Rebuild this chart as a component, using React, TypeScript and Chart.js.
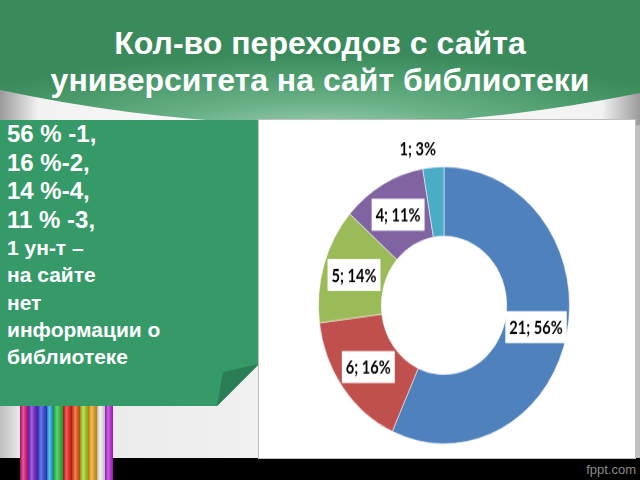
import { useEffect, useRef } from "react";
import { Chart, registerables } from "chart.js";

Chart.register(...registerables);

// ---- data ----
const categories = ["1", "2", "4", "3", "нет информации"];
const counts = [21, 6, 5, 4, 1];
const percentLabels = ["56%", "16%", "14%", "11%", "3%"];
const sliceColors = ["#4F81BD", "#C0504D", "#9BBB59", "#8064A2", "#4BACC6"];
const titleLines = ["Кол-во переходов с сайта", "университета на сайт библиотеки"];
const leftLinesBig = ["56 % -1,", "16 %-2,", "14 %-4,", "11 % -3,"];
const leftLinesSmall = ["1 ун-т –", "на сайте", "нет", "информации о", "библиотеке"];
const pencilColors = [
  "#E0117F", "#7A1FD6", "#2F3FE0", "#1EA8F0", "#22C23A", "#F01818",
  "#F05010", "#A8D81A", "#F0A010", "#F4F4F4", "#C020E0",
];

const LABEL_FONT = "bold 17px Lato, 'Open Sans', sans-serif";
const LABEL_SQUEEZE = 0.86;

const sliceLabelPlugin = {
  id: "sliceLabels",
  afterDatasetsDraw(chart: any) {
    const ctx = chart.ctx;
    const meta = chart.getDatasetMeta(0);
    const total = counts.reduce((a, b) => a + b, 0);
    meta.data.forEach((arc: any, i: number) => {
      const text = `${counts[i]}; ${percentLabels[i]}`;
      ctx.save();
      ctx.font = LABEL_FONT;
      ctx.textAlign = "center";
      ctx.textBaseline = "middle";
      const w = ctx.measureText(text).width * LABEL_SQUEEZE;
      const frac = counts[i] / total;
      let x: number, y: number;
      if (frac < 0.05) {
        const p = arc.getProps(["x", "y", "startAngle", "endAngle", "outerRadius"], true);
        const a = (p.startAngle + p.endAngle) / 2;
        x = p.x + Math.cos(a) * (p.outerRadius + 18) - 14;
        y = p.y + Math.sin(a) * (p.outerRadius + 18);
      } else {
        const pos = arc.tooltipPosition(true);
        x = pos.x;
        y = pos.y;
        ctx.fillStyle = "#FFFFFF";
        const bw = w + 8;
        const bh = 29;
        ctx.fillRect(x - bw / 2, y - bh / 2, bw, bh);
      }
      ctx.fillStyle = "#000000";
      ctx.translate(x, y + 1);
      ctx.scale(LABEL_SQUEEZE, 1);
      ctx.fillText(text, 0, 0);
      ctx.restore();
    });
  },
};

function DoughnutChart() {
  const ref = useRef<HTMLCanvasElement | null>(null);
  useEffect(() => {
    if (!ref.current) return;
    const chart = new Chart(ref.current, {
      type: "doughnut",
      data: {
        labels: categories,
        datasets: [
          {
            data: counts,
            backgroundColor: sliceColors,
            borderColor: "rgba(255,255,255,0.5)",
            borderWidth: 1,
          },
        ],
      },
      options: {
        responsive: false,
        animation: false,
        cutout: "50%",
        layout: { padding: { left: 59, right: 65, top: 42, bottom: 12 } },
        plugins: {
          legend: { display: false },
          tooltip: { enabled: false },
          title: { display: false },
        },
      },
      plugins: [sliceLabelPlugin],
    });
    return () => chart.destroy();
  }, []);
  return (
    <canvas
      ref={ref}
      width={376}
      height={306}
      style={{
        position: "absolute",
        left: 0,
        top: 0,
        width: 376,
        height: 306,
        transform: "scaleY(1.103)",
        transformOrigin: "0 0",
      }}
    />
  );
}

export default function App() {
  const font = "'Liberation Sans', Arial, sans-serif";
  const pencilX0 = 20;
  const pencilW = [8, 9, 10, 6, 10, 9, 8, 8, 9, 8, 8];
  let px = pencilX0;
  const pencils = pencilColors.map((c, i) => {
    const r = { x: px, w: pencilW[i], c };
    px += pencilW[i];
    return r;
  });
  return (
    <div
      style={{
        position: "fixed",
        left: 0,
        top: 0,
        width: 640,
        height: 480,
        overflow: "hidden",
        background: "#eeeeee",
      }}
    >
      <svg width={640} height={480} style={{ position: "absolute", left: 0, top: 0 }}>
        <defs>
          <linearGradient id="bgH" x1="0" y1="0" x2="1" y2="0">
            <stop offset="0" stopColor="#bdbdbd" />
            <stop offset="0.03" stopColor="#e8e8e8" />
            <stop offset="0.5" stopColor="#f3f3f3" />
            <stop offset="0.97" stopColor="#e8e8e8" />
            <stop offset="1" stopColor="#bdbdbd" />
          </linearGradient>
          <linearGradient id="silver" x1="0" y1="0" x2="1" y2="0">
            <stop offset="0" stopColor="#9a9a9a" />
            <stop offset="0.06" stopColor="#f2f2f2" />
            <stop offset="0.5" stopColor="#ffffff" />
            <stop offset="0.94" stopColor="#f2f2f2" />
            <stop offset="1" stopColor="#9a9a9a" />
          </linearGradient>
          <radialGradient id="topGreen" cx="0.5" cy="1.05" r="0.62">
            <stop offset="0" stopColor="#9fd0b0" />
            <stop offset="0.35" stopColor="#6db38a" />
            <stop offset="0.75" stopColor="#4a9a6c" />
            <stop offset="1" stopColor="#3a8a5c" />
          </radialGradient>
          <linearGradient id="pencilShade" x1="0" y1="0" x2="1" y2="0">
            <stop offset="0" stopColor="#000" stopOpacity="0.25" />
            <stop offset="0.4" stopColor="#fff" stopOpacity="0.3" />
            <stop offset="1" stopColor="#000" stopOpacity="0.2" />
          </linearGradient>
        </defs>
        <rect x={0} y={0} width={640} height={480} fill="url(#bgH)" />
        <path d="M0,80 H640 V125 Q320,175 0,122 Z" fill="url(#silver)" />
        <path d="M0,0 H640 V93 Q320,158 0,90 Z" fill="url(#topGreen)" />
        {/* left green panel */}
        <polygon points="0,120 259,120 259,364 217,406 0,406" fill="#359A68" />
        <polygon points="223,372 259,364 217,406" fill="#2A7D54" />
        {/* black bottom bar */}
        <rect x={0} y={458} width={640} height={22} fill="#000" />
        {/* pencils */}
        {pencils.map((p, i) => (
          <g key={i}>
            <rect x={p.x} y={406} width={p.w} height={74} fill={p.c} />
            <rect x={p.x} y={406} width={p.w} height={74} fill="url(#pencilShade)" />
          </g>
        ))}
        <text x={636} y={474} textAnchor="end" fill="#8a8a8a" fontFamily={font} fontSize={13}>
          fppt.com
        </text>
        {/* title */}
        {titleLines.map((t, i) => (
          <text
            key={i}
            x={320}
            y={54 + i * 37}
            textAnchor="middle"
            fill="#ffffff"
            fontFamily={font}
            fontWeight="bold"
            fontSize={32}
          >
            {t}
          </text>
        ))}
        {/* left text */}
        {leftLinesBig.map((t, i) => (
          <text key={"b" + i} x={7} y={142 + i * 28.5} fill="#ffffff" fontFamily={font} fontWeight="bold" fontSize={24}>
            {t}
          </text>
        ))}
        {leftLinesSmall.map((t, i) => (
          <text key={"s" + i} x={7} y={255 + i * 27.3} fill="#ffffff" fontFamily={font} fontWeight="bold" fontSize={21}>
            {t}
          </text>
        ))}
      </svg>
      <div
        style={{
          position: "absolute",
          left: 258,
          top: 119,
          width: 376,
          height: 338,
          border: "1px solid #bfbfbf",
          background: "#ffffff",
          overflow: "hidden",
        }}
      >
        <DoughnutChart />
      </div>
    </div>
  );
}
